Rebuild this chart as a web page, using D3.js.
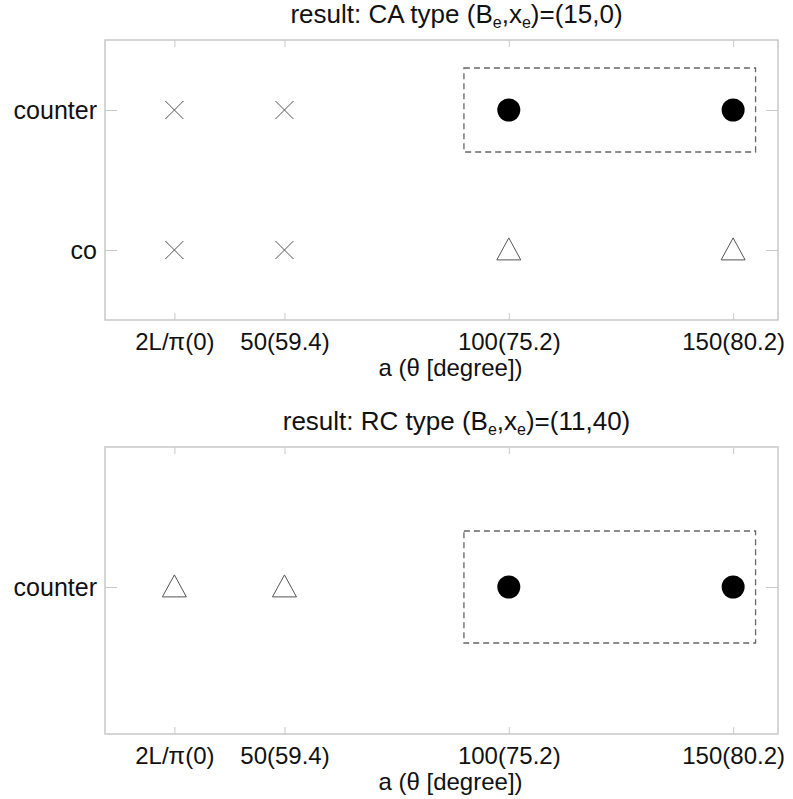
<!DOCTYPE html>
<html>
<head>
<meta charset="utf-8">
<script src="https://cdn.jsdelivr.net/npm/d3@7"></script>
<style>
  body { margin: 0; background: #fff; }
  svg { display: block; }
</style>
</head>
<body>
<div id="chart"></div>
<script>
// ---- data ----
const L = 40;
const aValues = [2 * L / Math.PI, 50, 100, 150];
const tickLabels = ['2L/\u03c0(0)', '50(59.4)', '100(75.2)', '150(80.2)'];

const topCategories = ['co', 'counter'];
const topCounter = ['cross', 'cross', 'dot', 'dot'];
const topCo = ['cross', 'cross', 'tri', 'tri'];

const botCategories = ['counter'];
const botCounter = ['tri', 'tri', 'dot', 'dot'];

// dashed box: [a0, a1, y0, y1]
const topBox = [90, 155, 0.7, 1.3];
const botBox = [90, 155, -0.4, 0.4];

const width = 793, height = 799;
const svg = d3.select('#chart').append('svg')
  .attr('width', width).attr('height', height);

const font = 'Liberation Sans, Arial, sans-serif';
const frameColor = '#c8c8c8';
const fs = 24;

function panel(opts) {
  const left = 105, right = 778;
  const top = opts.top, bottom = opts.bottom;
  const g = svg.append('g');

  const x = d3.scaleLinear().domain([10, 160]).range([left, right]);
  const y = d3.scaleLinear().domain(opts.yDomain).range([bottom, top]);

  // title
  const t = g.append('text')
    .attr('x', (left + right) / 2 + 15)
    .attr('y', top - 17)
    .attr('text-anchor', 'middle')
    .attr('font-family', font)
    .attr('font-size', 26)
    .attr('fill', '#111');
  t.append('tspan').text(opts.title + ' (B');
  t.append('tspan').attr('font-size', 16).attr('dy', 5).text('e');
  t.append('tspan').attr('dy', -5).text(',x');
  t.append('tspan').attr('font-size', 16).attr('dy', 5).text('e');
  t.append('tspan').attr('dy', -5).text(')=' + opts.values);

  // frame
  g.append('rect')
    .attr('x', left).attr('y', top)
    .attr('width', right - left).attr('height', bottom - top)
    .attr('fill', 'none')
    .attr('stroke', frameColor)
    .attr('stroke-width', 1.5);

  // x axis (bottom, ticks inward)
  const xAxis = g.append('g')
    .attr('transform', `translate(0,${bottom})`)
    .call(d3.axisBottom(x).tickValues(aValues)
      .tickFormat((d, i) => tickLabels[i])
      .tickSizeInner(-7).tickSizeOuter(0).tickPadding(13));
  xAxis.select('.domain').remove();
  xAxis.selectAll('line').attr('stroke', frameColor);
  xAxis.selectAll('text')
    .attr('font-family', font).attr('font-size', fs).attr('fill', '#111');

  const xTop = g.append('g')
    .attr('transform', `translate(0,${top})`)
    .call(d3.axisTop(x).tickValues(aValues).tickFormat('')
      .tickSizeInner(-7).tickSizeOuter(0));
  xTop.select('.domain').remove();
  xTop.selectAll('line').attr('stroke', frameColor);

  g.append('text')
    .attr('x', (left + right) / 2 + 9)
    .attr('y', bottom + 56)
    .attr('text-anchor', 'middle')
    .attr('font-family', font)
    .attr('font-size', fs)
    .attr('fill', '#111')
    .text('a (\u03b8 [degree])');

  // y axis (left labels, ticks inward)
  const yVals = opts.categories.map((c, i) => i);
  const yAxis = g.append('g')
    .attr('transform', `translate(${left},0)`)
    .call(d3.axisLeft(y).tickValues(yVals)
      .tickFormat((d, i) => opts.categories[i])
      .tickSizeInner(-12).tickSizeOuter(0).tickPadding(8));
  yAxis.select('.domain').remove();
  yAxis.selectAll('line').attr('stroke', frameColor);
  yAxis.selectAll('text')
    .attr('font-family', font).attr('font-size', 25).attr('fill', '#111');

  const yRight = g.append('g')
    .attr('transform', `translate(${right},0)`)
    .call(d3.axisRight(y).tickValues(yVals).tickFormat('')
      .tickSizeInner(-12).tickSizeOuter(0));
  yRight.select('.domain').remove();
  yRight.selectAll('line').attr('stroke', frameColor);

  // dashed box
  const b = opts.box;
  g.append('rect')
    .attr('x', x(b[0])).attr('y', y(b[3]))
    .attr('width', x(b[1]) - x(b[0]))
    .attr('height', y(b[2]) - y(b[3]))
    .attr('fill', 'none')
    .attr('stroke', '#666')
    .attr('stroke-width', 1.3)
    .attr('stroke-dasharray', '6,4');

  // markers
  opts.rows.forEach((row, ri) => {
    row.forEach((m, i) => {
      const cx = x(aValues[i]), cy = y(ri);
      if (m === 'dot') {
        g.append('circle').attr('cx', cx).attr('cy', cy).attr('r', 11.5).attr('fill', '#000');
      } else if (m === 'cross') {
        const s = 9;
        g.append('path')
          .attr('d', `M${cx - s},${cy - s}L${cx + s},${cy + s}M${cx - s},${cy + s}L${cx + s},${cy - s}`)
          .attr('stroke', '#555').attr('stroke-width', 1).attr('fill', 'none');
      } else if (m === 'tri') {
        const w = 12, h = 22;
        g.append('path')
          .attr('d', `M${cx},${cy - h * 0.55}L${cx + w},${cy + h * 0.45}L${cx - w},${cy + h * 0.45}Z`)
          .attr('stroke', '#555').attr('stroke-width', 1).attr('fill', 'none');
      }
    });
  });
}

panel({
  top: 40,
  bottom: 320,
  yDomain: [-0.5, 1.5],
  categories: topCategories,
  rows: [topCo, topCounter],
  box: topBox,
  title: 'result: CA type',
  values: '(15,0)'
});

panel({
  top: 447,
  bottom: 734,
  yDomain: [-1.05, 1],
  categories: botCategories,
  rows: [botCounter],
  box: botBox,
  title: 'result: RC type',
  values: '(11,40)'
});
</script>
</body>
</html>
